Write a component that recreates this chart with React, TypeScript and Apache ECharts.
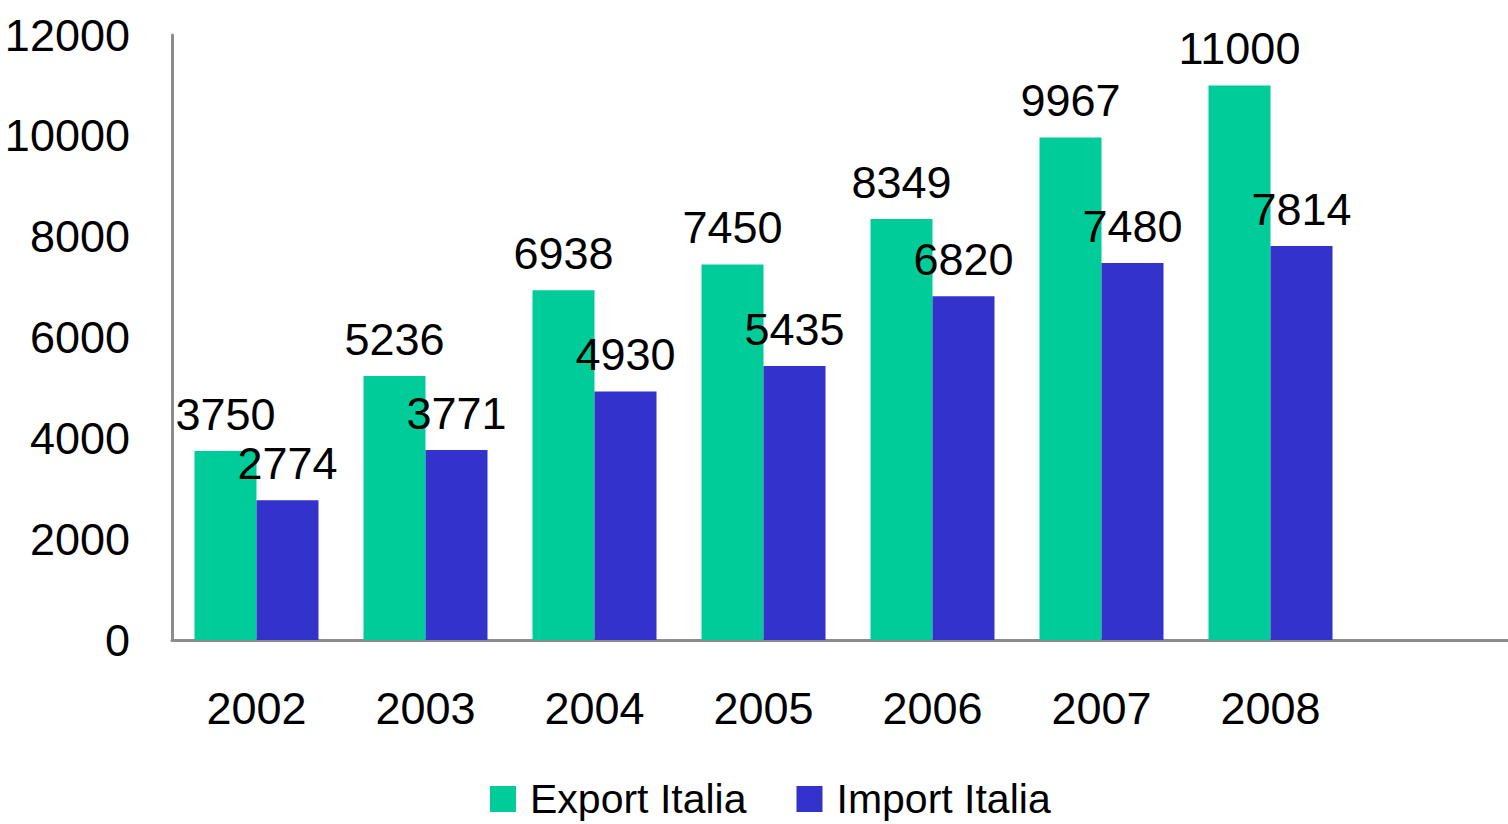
import React, { useEffect, useRef } from "react";
import * as echarts from "echarts";

const categories = ["2002", "2003", "2004", "2005", "2006", "2007", "2008", ""];
const exportValues = [3750, 5236, 6938, 7450, 8349, 9967, 11000];
const importValues = [2774, 3771, 4930, 5435, 6820, 7480, 7814];
const seriesNames = ["Export Italia", "Import Italia"];

const NUM_FONT = '"Liberation Sans", Arial, sans-serif';
const TXT_FONT = '"Liberation Sans", Arial, sans-serif';

export default function App() {
  const ref = useRef<HTMLDivElement>(null);
  useEffect(() => {
    document.body.style.margin = "0";
    const chart = echarts.init(ref.current!, undefined, { renderer: "svg" });
    const label = {
      show: true,
      position: "top" as const,
      distance: 14,
      color: "#000",
      fontFamily: NUM_FONT,
      fontSize: 45,
    };
    chart.setOption({
      animation: false,
      backgroundColor: "#fff",
      grid: {
        left: 172,
        top: 35,
        bottom: 184,
        width: 1352,
        containLabel: false,
        outerBoundsMode: "none",
      },
      legend: {
        data: seriesNames,
        left: 490,
        top: 778,
        padding: 0,
        itemWidth: 26,
        itemHeight: 26,
        itemGap: 50,
        icon: "rect",
        textStyle: {
          fontFamily: TXT_FONT,
          fontSize: 41,
          lineHeight: 42,
          color: "#000",
          padding: [0, 0, 0, 9],
        },
      },
      xAxis: {
        type: "category",
        data: categories,
        axisLine: { lineStyle: { color: "#8c8c8c", width: 3 } },
        axisTick: { show: false },
        axisLabel: { color: "#000", fontFamily: NUM_FONT, fontSize: 45, margin: 46 },
      },
      yAxis: {
        type: "value",
        min: 0,
        max: 12000,
        interval: 2000,
        axisLine: { show: true, lineStyle: { color: "#8c8c8c", width: 3 } },
        axisTick: { show: false },
        splitLine: { show: false },
        axisLabel: {
          color: "#000",
          fontFamily: NUM_FONT,
          fontSize: 45,
          margin: 42,
          formatter: (v: number) => String(v),
        },
      },
      series: [
        {
          name: seriesNames[0],
          type: "bar",
          data: exportValues,
          barWidth: 62,
          barGap: "0%",
          itemStyle: { color: "#00CC99" },
          label,
        },
        {
          name: seriesNames[1],
          type: "bar",
          data: importValues,
          barWidth: 62,
          barGap: "0%",
          itemStyle: { color: "#3333CC" },
          label,
        },
      ],
    });
    return () => chart.dispose();
  }, []);
  return <div ref={ref} style={{ position: "fixed", left: 0, top: 0, width: 1508, height: 824 }} />;
}
